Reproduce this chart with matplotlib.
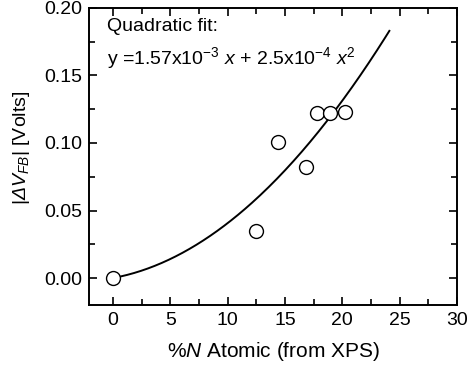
# Flat-band voltage shift vs nitrogen content, with quadratic fit
import numpy as np
import matplotlib
matplotlib.use('Agg')
import matplotlib.pyplot as plt
from matplotlib.ticker import MultipleLocator

plt.rcParams['font.family'] = ['Liberation Sans', 'DejaVu Sans']
plt.rcParams['mathtext.fontset'] = 'custom'
plt.rcParams['mathtext.rm'] = 'Liberation Sans'
plt.rcParams['mathtext.it'] = 'Liberation Sans:italic'
# slanted Greek capital for the Delta (the 'it' slot forces it upright)
plt.rcParams['mathtext.sf'] = 'Liberation Sans:italic'

n_atomic = [0.0, 12.5, 14.4, 16.8, 17.8, 18.9, 20.2]
dvfb = [0.000, 0.035, 0.101, 0.082, 0.122, 0.122, 0.123]

fit_a = 1.57e-3
fit_b = 2.5e-4
fit_xmax = 24.1

fig = plt.figure(figsize=(4.67, 3.69), dpi=100)
ax = fig.add_axes([0.1906, 0.1734, 0.788, 0.805])

xf = np.linspace(0, fit_xmax, 200)
ax.plot(xf, fit_a * xf + fit_b * xf ** 2, color='black', lw=1.4)
ax.plot(n_atomic, dvfb, 'o', ms=10, mfc='white', mec='black', mew=1.0)

ax.set_xlim(-2.1, 30)
ax.set_ylim(-0.02, 0.20)
ax.xaxis.set_major_locator(MultipleLocator(5))
ax.xaxis.set_minor_locator(MultipleLocator(2.5))
ax.yaxis.set_major_locator(MultipleLocator(0.05))
ax.yaxis.set_minor_locator(MultipleLocator(0.025))
ax.yaxis.set_major_formatter(matplotlib.ticker.FormatStrFormatter('%.2f'))
ax.tick_params(which='both', direction='in', top=True, right=True, width=1.2)
ax.tick_params(which='major', length=6, labelsize=14, pad=5)
ax.tick_params(which='minor', length=4)
for s in ax.spines.values():
    s.set_linewidth(1.4)

ax.set_xlabel(r'%$N$ Atomic (from XPS)', fontsize=15, labelpad=8)
ax.set_ylabel(r'$|\mathsf{\Delta}\mathit{V}_{FB}|$ [Volts]', fontsize=14)
ax.yaxis.set_label_coords(-0.155, 0.53)

ax.text(0.049, 0.965, 'Quadratic fit:', transform=ax.transAxes,
        fontsize=14, va='top', ha='left')
ax.text(0.049, 0.83, r'y =1.57x10$^{-3}$ $x$ + 2.5x10$^{-4}$ $x^2$',
        transform=ax.transAxes, fontsize=14, va='center', ha='left')

plt.savefig('out.png', dpi=100)
